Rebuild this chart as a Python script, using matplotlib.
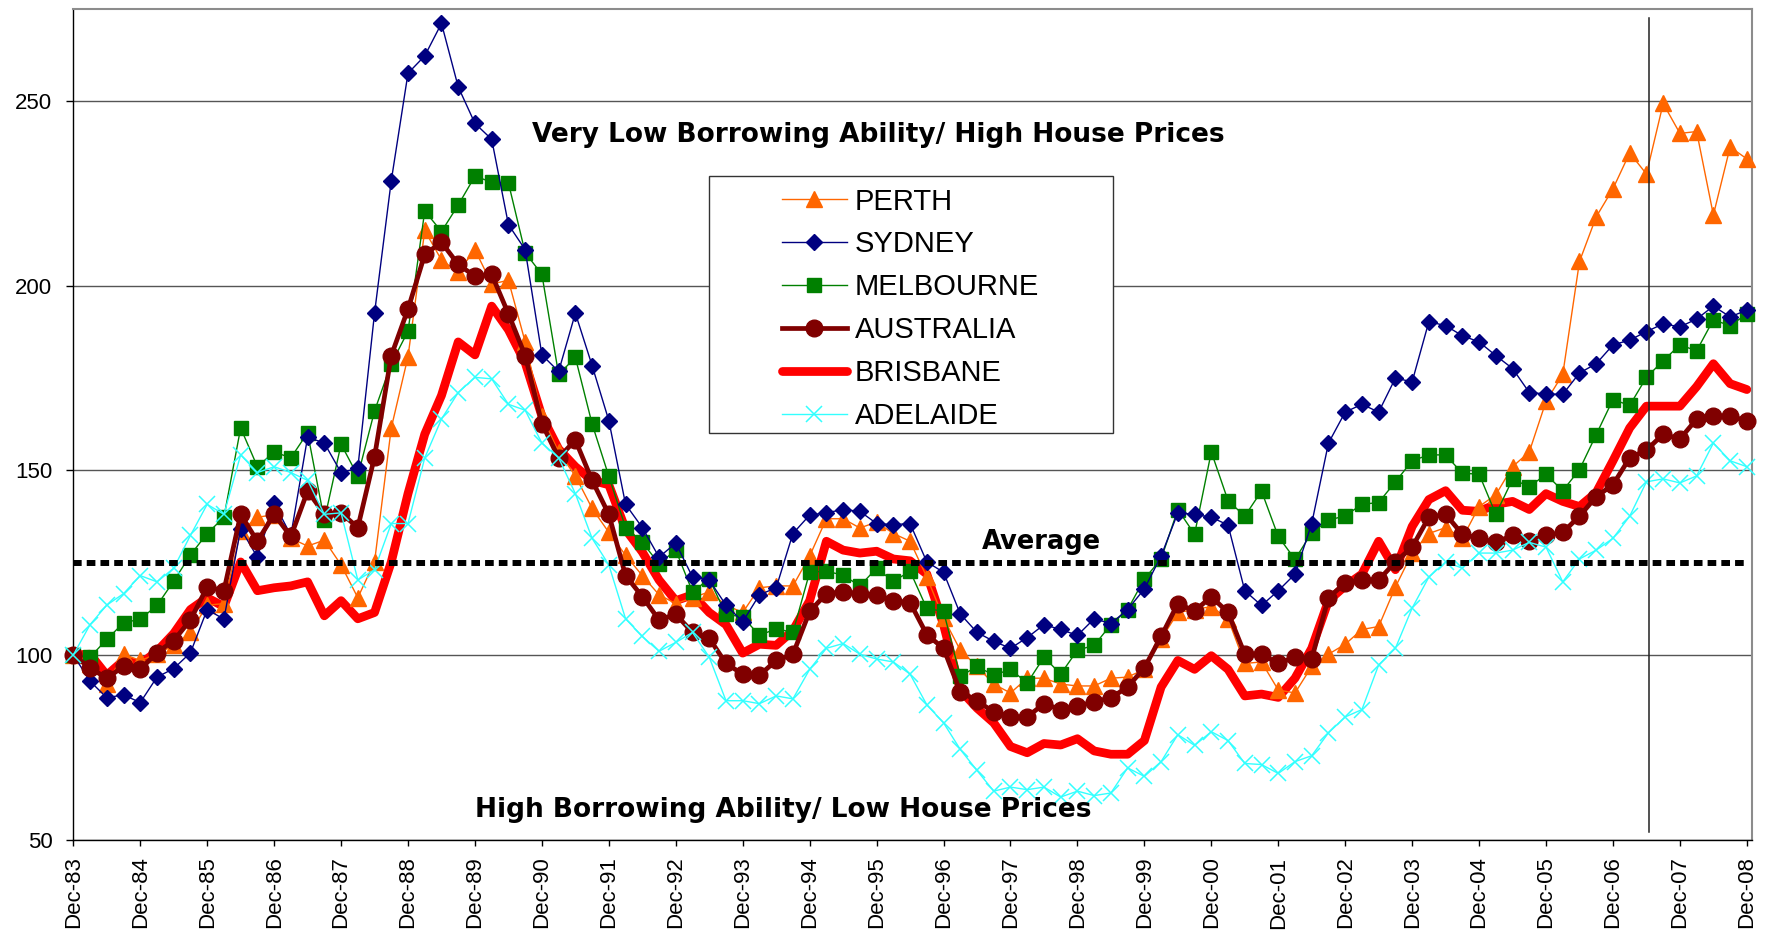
import matplotlib
matplotlib.use("Agg")
import matplotlib.pyplot as plt
from matplotlib.patches import Rectangle
from matplotlib.font_manager import FontProperties

# Quarterly index (Dec-83 = 100), 101 quarters Dec-83 .. Dec-08
years = ["83", "84", "85", "86", "87", "88", "89", "90", "91", "92", "93", "94",
         "95", "96", "97", "98", "99", "00", "01", "02", "03", "04", "05", "06",
         "07", "08"]
tick_labels = ["Dec-" + y for y in years]

perth = [
    100, 97.5, 92.1, 100.2, 98.5, 100.2, 102.6, 106.1, 113.5, 113.9,
    133.5, 137.3, 138.0, 131.6, 129.5, 131.1, 124.4, 115.5, 125.2, 161.5,
    180.8, 215.0, 207.0, 203.7, 209.8, 200.5, 201.5, 184.8, 164.7, 155.0,
    148.5, 139.7, 133.2, 127.0, 121.5, 116.3, 113.9, 115.5, 117.1, 113.5,
    111.5, 118.2, 118.7, 118.7, 126.8, 136.9, 136.9, 134.4, 136.0, 132.9,
    130.8, 121.1, 110.0, 101.3, 96.9, 92.1, 89.7, 93.7, 93.7, 92.1,
    91.6, 91.6, 93.7, 94.0, 96.1, 104.2, 111.5, 112.3, 113.1, 109.8,
    97.7, 98.1, 90.5, 89.7, 96.9, 100.2, 102.9, 106.9, 107.7, 118.4,
    127.6, 132.9, 134.5, 131.6, 140.2, 143.4, 151.0, 155.0, 168.7, 176.0,
    206.6, 218.7, 226.3, 236.0, 230.3, 249.4, 241.3, 241.8, 219.2, 237.6,
    234.4]

sydney = [
    100, 92.9, 88.4, 89.2, 87.1, 94.0, 96.3, 100.6, 112.3, 109.7,
    134.2, 126.5, 141.1, 132.4, 159.0, 157.4, 149.4, 150.6, 192.6, 228.5,
    257.6, 262.3, 271.1, 253.9, 244.0, 239.7, 216.6, 209.8, 181.3, 176.8,
    192.6, 178.4, 163.5, 140.8, 134.5, 126.5, 130.3, 121.1, 120.3, 113.5,
    109.0, 116.3, 118.2, 132.9, 137.9, 138.5, 139.4, 138.9, 135.6, 135.3,
    135.6, 125.2, 122.4, 111.1, 106.1, 103.7, 101.8, 104.7, 108.2, 106.9,
    105.3, 109.8, 108.5, 112.3, 117.9, 126.8, 138.5, 138.1, 137.3, 135.2,
    117.4, 113.4, 117.4, 121.9, 135.6, 157.4, 165.8, 167.9, 165.8, 175.0,
    174.0, 190.3, 189.2, 186.5, 184.8, 181.1, 177.6, 171.1, 170.7, 170.6,
    176.4, 178.9, 184.0, 185.3, 187.6, 189.7, 188.9, 191.0, 194.5, 191.6,
    193.4]

melbourne = [
    100, 99.4, 104.2, 108.7, 109.7, 113.4, 120.0, 127.1, 132.9, 137.3,
    161.5, 151.0, 155.0, 153.4, 160.2, 136.5, 157.1, 148.5, 166.1, 178.9,
    187.7, 220.3, 214.7, 221.9, 229.7, 228.1, 227.9, 209.0, 203.1, 176.0,
    180.6, 162.6, 148.4, 134.5, 130.5, 124.7, 128.4, 117.1, 120.6, 111.0,
    110.3, 105.3, 107.1, 106.1, 122.4, 122.7, 121.6, 118.7, 123.5, 119.9,
    122.7, 112.6, 111.8, 94.2, 96.9, 94.5, 96.1, 92.4, 99.4, 94.8,
    101.3, 102.6, 108.2, 112.3, 120.6, 126.0, 139.4, 132.7, 155.0, 141.8,
    137.6, 144.4, 132.1, 125.9, 133.1, 136.5, 137.7, 140.8, 141.3, 146.9,
    152.6, 154.2, 154.2, 149.2, 149.0, 138.1, 147.6, 145.6, 148.9, 144.5,
    150.2, 159.7, 169.2, 167.6, 175.2, 179.7, 184.0, 182.4, 190.8, 189.2,
    192.4]

australia = [
    100, 96.5, 93.7, 96.9, 96.1, 100.6, 103.9, 109.5, 118.4, 117.4,
    138.1, 130.8, 138.1, 132.1, 144.4, 138.2, 138.5, 134.5, 153.7, 181.1,
    193.7, 208.5, 211.8, 205.8, 202.6, 203.1, 192.4, 181.1, 162.7, 153.4,
    158.2, 147.3, 138.1, 121.5, 115.8, 109.5, 111.0, 106.1, 104.5, 97.7,
    94.8, 94.5, 98.5, 100.2, 111.8, 116.6, 117.1, 116.6, 116.3, 114.7,
    114.2, 105.5, 101.8, 90.0, 87.6, 84.5, 83.2, 83.2, 86.8, 85.2,
    86.1, 87.3, 88.4, 91.3, 96.5, 105.0, 113.9, 111.9, 115.8, 111.5,
    100.2, 100.2, 97.7, 99.4, 99.0, 115.5, 119.5, 120.3, 120.3, 125.2,
    129.2, 137.3, 138.1, 132.7, 131.6, 130.5, 132.4, 130.8, 132.4, 133.2,
    137.6, 142.9, 146.1, 153.4, 155.5, 159.8, 158.5, 163.9, 164.7, 164.7,
    163.4]

brisbane = [
    100, 100.2, 94.5, 98.5, 97.5, 101.0, 105.8, 112.3, 115.5, 113.1,
    125.2, 117.4, 118.2, 118.7, 119.8, 110.6, 114.7, 109.8, 111.5, 125.2,
    143.7, 159.8, 170.3, 184.8, 181.3, 194.5, 188.1, 179.2, 164.7, 155.8,
    151.0, 147.3, 146.1, 134.0, 127.9, 120.3, 114.7, 116.3, 111.5, 108.2,
    100.5, 102.9, 102.6, 106.6, 114.7, 130.8, 128.4, 127.6, 128.1, 126.0,
    125.5, 121.9, 108.2, 90.5, 85.6, 81.6, 75.2, 73.5, 76.0, 75.6,
    77.3, 74.0, 73.1, 73.1, 76.8, 91.3, 98.5, 96.1, 99.8, 96.1,
    88.9, 89.4, 88.5, 93.7, 101.8, 114.7, 118.7, 121.9, 130.8, 123.1,
    134.8, 142.1, 144.5, 139.2, 138.9, 140.8, 141.6, 139.4, 143.7, 141.6,
    140.2, 144.0, 152.6, 161.5, 167.4, 167.4, 167.4, 172.7, 178.9, 173.5,
    171.9]

adelaide = [
    100, 108.2, 113.5, 116.6, 121.5, 119.8, 123.5, 132.4, 140.8, 138.1,
    154.2, 149.4, 151.0, 149.4, 147.3, 138.1, 138.5, 120.3, 123.1, 135.6,
    135.6, 153.4, 163.9, 171.1, 175.2, 174.8, 167.9, 166.3, 157.4, 153.4,
    143.7, 131.6, 124.4, 109.8, 105.0, 101.0, 103.4, 106.1, 99.4, 87.6,
    87.6, 86.8, 88.9, 88.1, 96.1, 101.8, 103.1, 100.2, 98.9, 98.1,
    94.8, 86.5, 81.6, 74.4, 68.7, 63.1, 64.2, 63.5, 64.2, 61.5,
    63.1, 61.9, 62.6, 69.4, 67.1, 71.1, 78.4, 75.5, 79.2, 76.8,
    70.6, 70.3, 67.9, 71.1, 72.7, 78.9, 83.2, 85.2, 97.3, 101.8,
    112.7, 121.1, 125.2, 123.5, 127.6, 127.6, 128.4, 130.5, 129.2, 119.8,
    126.0, 128.4, 131.6, 137.6, 146.9, 147.7, 146.6, 148.5, 157.4, 152.6,
    151.0]

average = 125
marker_quarter = 94.15  # vertical reference line (early 2007)

quarters = list(range(len(perth)))

W, H = 1767, 932
fig = plt.figure(figsize=(W / 100, H / 100), dpi=100)
fig.patch.set_facecolor("white")
left, right, bottom, top = 73.3, 1751.7, 839.5, 9.0
ax = fig.add_axes([left / W, 1 - bottom / H, (right - left) / W, (bottom - top) / H])
ax.set_xlim(0, 100.29)
ax.set_ylim(50, 275)

# series drawn back to front
l_bris, = ax.plot(quarters, brisbane, color="#ff0000", lw=6.3, solid_capstyle="round",
                  zorder=2, clip_on=False)
l_perth, = ax.plot(quarters, perth, color="#ff6600", lw=1, marker="^", ms=11.5,
                   mec="#ff6600", mfc="#ff6600", zorder=3, clip_on=False)
l_melb, = ax.plot(quarters, melbourne, color="#008000", lw=1, marker="s", ms=9.5,
                  mec="#008000", mfc="#008000", zorder=4, clip_on=False)
l_syd, = ax.plot(quarters, sydney, color="#000080", lw=1, marker="D", ms=7.8,
                 mec="#000080", mfc="#000080", zorder=5, clip_on=False)
l_aus, = ax.plot(quarters, australia, color="#800000", lw=3.4, marker="o", ms=12,
                 mec="#800000", mfc="#800000", zorder=6, clip_on=False)
l_adel, = ax.plot(quarters, adelaide, color="#33ffff", lw=1, marker="x", ms=11,
                  mew=1.1, zorder=7, clip_on=False)

# long-run average
ax.plot([quarters[0], quarters[-1]], [average, average], color="black", lw=4.3,
        linestyle=(0, (1.45, 0.85)), dash_capstyle="butt", zorder=8, clip_on=False)

# vertical reference line
ax.plot([marker_quarter, marker_quarter], [52, 272.5], color="#222222", lw=1.1, zorder=8)

# axes styling
for s in ("top", "right"):
    ax.spines[s].set_color("#8c8c8c")
    ax.spines[s].set_linewidth(1.5)
for s in ("left", "bottom"):
    ax.spines[s].set_color("black")
    ax.spines[s].set_linewidth(1.0)

ax.set_yticks([50, 100, 150, 200, 250])
ax.set_yticklabels(["50", "100", "150", "200", "250"], fontsize=16, family="Liberation Sans")
ax.set_xticks(list(range(0, 101, 4)))
ax.set_xticklabels(tick_labels, rotation=90, fontsize=16, family="Liberation Sans")
ax.tick_params(axis="y", direction="out", length=5, width=1, pad=10)
ax.tick_params(axis="x", direction="out", length=4.3, width=1, pad=8)
ax.yaxis.grid(True, color="#555555", lw=1)
ax.xaxis.grid(False)

# legend box and entries
box = Rectangle((709.3 / W, 1 - 433.3 / H), 403.4 / W, 257.3 / H, transform=fig.transFigure,
                facecolor="white", edgecolor="#333333", lw=1.0, zorder=9, clip_on=False)
ax.add_patch(box)
handles = [l_perth, l_syd, l_melb, l_aus, l_bris, l_adel]
labels = ["PERTH", "SYDNEY", "MELBOURNE", "AUSTRALIA", "BRISBANE", "ADELAIDE"]
leg = ax.legend(handles, labels, loc="upper left", bbox_to_anchor=(782 / W, 1 - 187.5 / H),
                bbox_transform=fig.transFigure, frameon=False, borderpad=0, borderaxespad=0,
                handlelength=2.22, handletextpad=0.28, labelspacing=0.51,
                prop=FontProperties(family="Liberation Sans", size=21))
leg.set_zorder(10)

# annotations
bold = dict(family="DejaVu Sans", weight="bold", color="black")
fig.text(878 / W, 1 - 141.8 / H, "Very Low Borrowing Ability/ High House Prices",
         ha="center", va="baseline", fontsize=19, **bold)
fig.text(782.8 / W, 1 - 816.8 / H, "High Borrowing Ability/ Low House Prices",
         ha="center", va="baseline", fontsize=19, **bold)
fig.text(1041.5 / W, 1 - 549.2 / H, "Average", ha="center", va="baseline",
         fontsize=18.5, **bold)

fig.savefig("out.png", dpi=100, facecolor="white")
